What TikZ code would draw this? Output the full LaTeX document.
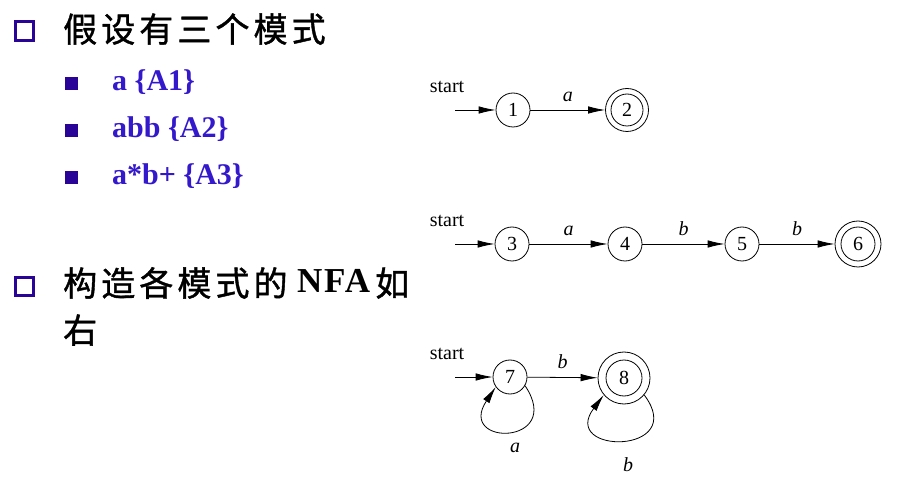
\documentclass[tikz,border=0pt]{standalone}
\usepackage{fontspec}
\setmainfont{Liberation Serif}
\newfontfamily\cjk[LetterSpace=12,FakeBold=1.2]{Noto Sans CJK SC}
\newfontfamily\nfafont[LetterSpace=5]{Liberation Serif}
\usetikzlibrary{arrows.meta}
\definecolor{bulletc}{RGB}{42,4,150}
\definecolor{itemc}{RGB}{52,24,204}
\begin{document}
\begin{tikzpicture}[x=1pt,y=1pt,
  hollowsq/.style={draw=bulletc,line width=3pt},
  fillsq/.style={fill=bulletc},
  head/.style={inner sep=0pt,anchor=base west,font=\cjk\fontsize{34}{40}\selectfont},
  itemtxt/.style={inner sep=0pt,anchor=base west,text=itemc,font=\bfseries\fontsize{30}{34}\selectfont},
  state/.style={circle,draw,line width=0.8pt,minimum size=34pt,inner sep=0pt,font=\fontsize{20}{22}\selectfont},
  accstate/.style={state,minimum size=#1},
  lbl/.style={inner sep=0pt,font=\itshape\fontsize{20}{22}\selectfont},
  starttxt/.style={inner sep=0pt,font=\fontsize{20}{22}\selectfont},
  trans/.style={line width=0.8pt,-{Latex[length=17pt,width=7.5pt]}}
]
\useasboundingbox (0,0) rectangle (911,-497);
% left text
\draw[hollowsq] (15.5,-21.5) rectangle (33.5,-40.5);
\node[head] (h1) at (63,-42) {假设有三个模式};
\fill[fillsq] (65,-77) rectangle (78,-90);
\node[itemtxt] (i1) at (112,-91) {a \{A1\}};
\fill[fillsq] (65,-124) rectangle (78,-137);
\node[itemtxt] (i2) at (112,-138) {abb \{A2\}};
\fill[fillsq] (65,-171) rectangle (78,-184);
\node[itemtxt] (i3) at (112,-185) {a*b+ \{A3\}};
\draw[hollowsq] (15.5,-277.5) rectangle (33.5,-295.5);
\node[head] (h2) at (63,-296) {构造各模式的};
\node[inner sep=0pt,anchor=base west,font=\nfafont\bfseries\fontsize{35}{40}\selectfont] (nfa) at (297,-293) {NFA};
\node[head] (h3) at (375,-296) {如};
\node[head] (h4) at (63,-343) {右};
% NFA 1
\node[starttxt] (st1) at (447,-87) {start};
\coordinate (in1) at (455,-110);
\node[state] (s1) at (513,-110) {1};
\node[accstate=43pt] (s2) at (627,-110) {2};
\draw[line width=0.8pt] (s2) circle (16pt);
\draw[trans] (in1) -- (s1);
\draw[trans] (s1) -- node[lbl,above=8pt] {a} (s2);
% NFA 2
\node[starttxt] (st2) at (447,-221) {start};
\coordinate (in2) at (455,-244);
\node[state] (s3) at (512,-244) {3};
\node[state] (s4) at (625,-244) {4};
\node[state] (s5) at (742,-244) {5};
\node[accstate=46pt] (s6) at (858,-244) {6};
\draw[line width=0.8pt] (s6) circle (17pt);
\draw[trans] (in2) -- (s3);
\draw[trans] (s3) -- node[lbl,above=8pt] {a} (s4);
\draw[trans] (s4) -- node[lbl,above=8pt] {b} (s5);
\draw[trans] (s5) -- node[lbl,above=8pt] {b} (s6);
% NFA 3
\node[starttxt] (st3) at (447,-354) {start};
\coordinate (in3) at (455,-377);
\node[state] (s7) at (510,-377) {7};
\node[accstate=52pt] (s8) at (624,-378) {8};
\draw[line width=0.8pt] (s8) circle (18pt);
\draw[trans] (in3) -- (s7);
\draw[trans] (s7) -- node[lbl,above=8pt] {b} (s8);
\draw[trans] (s7.-30) .. controls +(40,-60) and +(-40,-60) .. (s7.-145);
\node[lbl] (la) at (515,-448) {a};
\draw[trans] (s8.-40) .. controls +(45,-60) and +(-45,-60) .. (s8.-140);
\node[lbl] (lb) at (628,-465) {b};
\end{tikzpicture}
\end{document}
